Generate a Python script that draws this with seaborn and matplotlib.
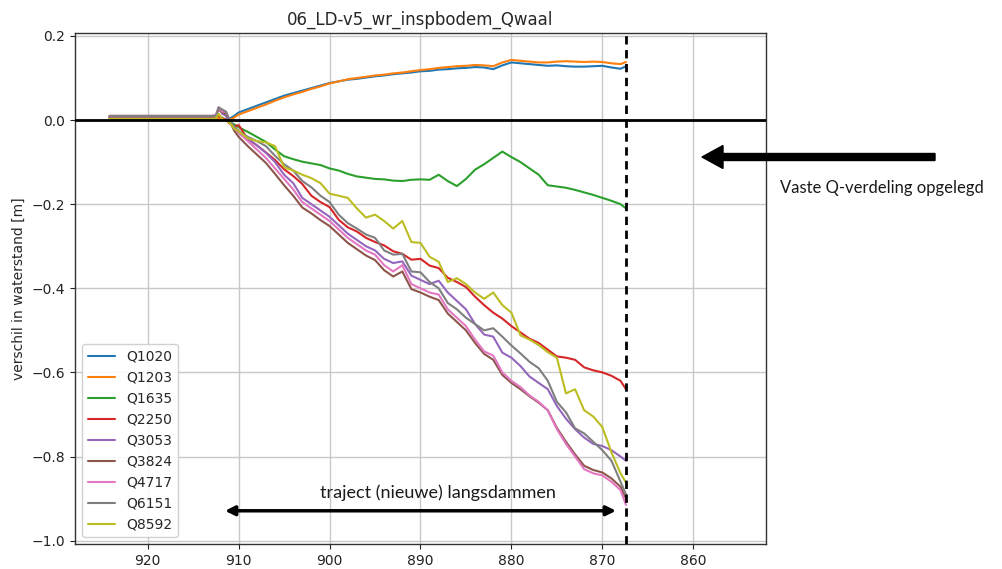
import numpy as np
import pandas as pd
import matplotlib
matplotlib.use("Agg")
import matplotlib.pyplot as plt
import seaborn as sns
from matplotlib.patches import FancyArrow

# ---------------- data ----------------
km = [924.2, 913.0, 912.5, 912.2, 911.8, 911.4, 911.0, 910.5, 910, 909, 908, 907, 906, 905, 904,
      903, 902, 901, 900, 899, 898, 897, 896, 895, 894, 893, 892, 891, 890, 889, 888, 887, 886,
      885, 884, 883, 882, 881, 880, 879, 878, 877, 876, 875, 874, 873, 872, 871, 870, 869, 868, 867.4]

q1020 = [0.005, 0.005, 0.005, 0.006, 0.004, 0.002, 0.003, 0.010, 0.018, 0.026, 0.034, 0.042, 0.050,
         0.058, 0.064, 0.070, 0.076, 0.082, 0.088, 0.092, 0.096, 0.098, 0.101, 0.104, 0.106, 0.109,
         0.111, 0.113, 0.116, 0.117, 0.120, 0.121, 0.123, 0.124, 0.126, 0.125, 0.121, 0.130, 0.137,
         0.135, 0.133, 0.131, 0.129, 0.130, 0.128, 0.127, 0.127, 0.128, 0.129, 0.125, 0.122, 0.128]
q1203 = [0.004, 0.004, 0.004, 0.005, 0.003, 0.001, 0.000, 0.006, 0.013, 0.021, 0.029, 0.037, 0.046,
         0.054, 0.061, 0.067, 0.074, 0.080, 0.087, 0.092, 0.097, 0.100, 0.103, 0.106, 0.108, 0.111,
         0.113, 0.116, 0.119, 0.121, 0.124, 0.126, 0.128, 0.129, 0.131, 0.130, 0.128, 0.137, 0.143,
         0.141, 0.139, 0.137, 0.137, 0.139, 0.140, 0.139, 0.138, 0.139, 0.138, 0.135, 0.133, 0.138]
q1635 = [0.005, 0.005, 0.006, 0.012, 0.005, 0.000, -0.005, -0.010, -0.017, -0.028, -0.040, -0.052,
         -0.070, -0.086, -0.093, -0.099, -0.103, -0.107, -0.115, -0.120, -0.128, -0.134, -0.137,
         -0.140, -0.141, -0.144, -0.145, -0.142, -0.141, -0.142, -0.130, -0.145, -0.157, -0.140,
         -0.118, -0.105, -0.090, -0.075, -0.088, -0.100, -0.115, -0.130, -0.155, -0.158, -0.161,
         -0.166, -0.172, -0.178, -0.185, -0.192, -0.200, -0.210]
q2250 = [0.007, 0.007, 0.007, 0.010, 0.005, 0.000, -0.008, -0.015, -0.012, -0.045, -0.060, -0.077,
         -0.095, -0.117, -0.133, -0.152, -0.180, -0.195, -0.207, -0.237, -0.255, -0.265, -0.280,
         -0.290, -0.298, -0.312, -0.318, -0.332, -0.330, -0.346, -0.352, -0.375, -0.385, -0.397,
         -0.420, -0.440, -0.458, -0.472, -0.490, -0.505, -0.520, -0.530, -0.546, -0.562, -0.565,
         -0.570, -0.588, -0.595, -0.600, -0.608, -0.620, -0.640]
q3053 = [0.008, 0.008, 0.010, 0.030, 0.015, 0.010, -0.005, -0.020, -0.030, -0.045, -0.060, -0.078,
         -0.100, -0.130, -0.150, -0.185, -0.200, -0.215, -0.230, -0.250, -0.270, -0.285, -0.300,
         -0.310, -0.330, -0.340, -0.336, -0.370, -0.380, -0.390, -0.382, -0.410, -0.430, -0.450,
         -0.485, -0.510, -0.515, -0.553, -0.565, -0.585, -0.610, -0.625, -0.640, -0.680, -0.710,
         -0.735, -0.755, -0.770, -0.775, -0.785, -0.800, -0.810]
q3824 = [0.009, 0.009, 0.011, 0.025, 0.018, 0.015, -0.002, -0.025, -0.040, -0.062, -0.082, -0.102,
         -0.128, -0.155, -0.180, -0.208, -0.222, -0.238, -0.252, -0.272, -0.292, -0.307, -0.322,
         -0.333, -0.357, -0.372, -0.360, -0.402, -0.410, -0.420, -0.428, -0.460, -0.480, -0.500,
         -0.530, -0.556, -0.570, -0.606, -0.625, -0.640, -0.657, -0.672, -0.690, -0.732, -0.765,
         -0.795, -0.822, -0.832, -0.838, -0.852, -0.872, -0.900]
q4717 = [0.010, 0.010, 0.012, 0.030, 0.020, 0.020, 0.000, -0.020, -0.030, -0.050, -0.070, -0.090,
         -0.115, -0.140, -0.165, -0.195, -0.210, -0.225, -0.240, -0.260, -0.280, -0.295, -0.310,
         -0.320, -0.345, -0.360, -0.345, -0.390, -0.400, -0.410, -0.415, -0.450, -0.470, -0.490,
         -0.522, -0.550, -0.560, -0.600, -0.620, -0.635, -0.655, -0.670, -0.690, -0.735, -0.770,
         -0.800, -0.830, -0.840, -0.845, -0.860, -0.880, -0.915]
q6151 = [0.010, 0.010, 0.010, 0.030, 0.025, 0.020, 0.000, -0.015, -0.026, -0.040, -0.050, -0.062,
         -0.085, -0.105, -0.120, -0.145, -0.160, -0.180, -0.195, -0.225, -0.245, -0.258, -0.272,
         -0.280, -0.310, -0.320, -0.318, -0.360, -0.362, -0.385, -0.400, -0.435, -0.450, -0.470,
         -0.485, -0.500, -0.495, -0.515, -0.536, -0.555, -0.575, -0.590, -0.620, -0.670, -0.695,
         -0.733, -0.745, -0.765, -0.785, -0.810, -0.860, -0.890]
q8592 = [0.003, 0.003, 0.004, 0.015, 0.003, -0.002, -0.006, -0.020, -0.027, -0.043, -0.050, -0.053,
         -0.062, -0.112, -0.120, -0.130, -0.138, -0.150, -0.175, -0.180, -0.185, -0.210, -0.232,
         -0.225, -0.240, -0.258, -0.240, -0.290, -0.292, -0.325, -0.337, -0.385, -0.376, -0.390,
         -0.410, -0.425, -0.410, -0.440, -0.458, -0.512, -0.522, -0.535, -0.552, -0.565, -0.650,
         -0.640, -0.690, -0.705, -0.730, -0.790, -0.840, -0.862]

series_names = ["Q1020", "Q1203", "Q1635", "Q2250", "Q3053", "Q3824", "Q4717", "Q6151", "Q8592"]
series_values = [q1020, q1203, q1635, q2250, q3053, q3824, q4717, q6151, q8592]

title = "06_LD-v5_wr_inspbodem_Qwaal"
ylabel = "verschil in waterstand [m]"
xticks = [920, 910, 900, 890, 880, 870, 860]
yticks = [0.2, 0.0, -0.2, -0.4, -0.6, -0.8, -1.0]
boundary_km = 867.4
note_right = "Vaste Q-verdeling opgelegd"
note_bottom = "traject (nieuwe) langsdammen"
traject_start, traject_end = 911.5, 868.5

# ---------------- figure ----------------
sns.set_style("ticks")
plt.rcParams["font.family"] = ["DejaVu Sans"]

df = pd.concat([pd.DataFrame({"km": km, "dh": v, "serie": n})
                for n, v in zip(series_names, series_values)], ignore_index=True)

fig = plt.figure(figsize=(10.02, 5.69), dpi=100)
ax = fig.add_axes([75 / 1002, 1 - 544 / 569, (766 - 75) / 1002, (544 - 33) / 569])

sns.lineplot(data=df, x="km", y="dh", hue="serie", hue_order=series_names,
             palette="tab10", estimator=None, lw=1.5, ax=ax)

ax.axhline(0, color="black", lw=2, zorder=5)
ax.axvline(boundary_km, color="black", lw=2, ls=(0, (3, 2)), zorder=5)

ax.set_xlim(928, 852)
ax.set_ylim(-1.008, 0.207)
ax.set_xticks(xticks)
ax.set_yticks(yticks)
ax.set_yticklabels([f"{t:.1f}".replace("-", "\u2212") for t in yticks])
ax.tick_params(labelsize=10, colors="#222222")
ax.grid(True, color="#c8c8c8", lw=1)
ax.set_xlabel("")
ax.set_ylabel(ylabel, fontsize=10)
ax.set_title(title, fontsize=12)
for s in ax.spines.values():
    s.set_color("#333333")
    s.set_linewidth(1)

handles, labels = ax.get_legend_handles_labels()
ax.legend(handles, labels, loc="lower left", fontsize=10, framealpha=0.9)

# annotations
ax.annotate("", xy=(traject_end, -0.929), xytext=(traject_start, -0.929),
            arrowprops=dict(arrowstyle="<|-|>", lw=2.5, color="black",
                            mutation_scale=14, shrinkA=0, shrinkB=0))
fig.text(320 / 1002, 1 - 493 / 569, note_bottom, ha="left", va="center",
         fontsize=13, family=["Lato", "DejaVu Sans"], color="#1a1a1a")

fig.add_artist(FancyArrow(9.35, 5.69 - 1.57, -2.33, 0, width=0.07, head_width=0.23,
                          head_length=0.21, length_includes_head=True,
                          transform=fig.dpi_scale_trans, color="black", clip_on=False))
fig.text(780 / 1002, 1 - 188 / 569, note_right, ha="left", va="center",
         fontsize=12, family=["Lato", "DejaVu Sans"], color="#1a1a1a")

fig.savefig("out.png", dpi=100)
